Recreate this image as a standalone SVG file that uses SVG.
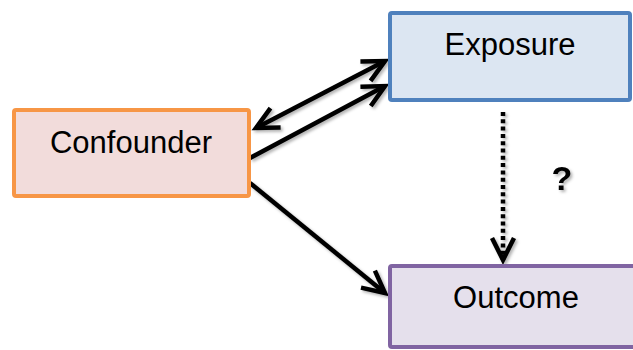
<svg xmlns="http://www.w3.org/2000/svg" width="633" height="350" viewBox="0 0 633 350">
  <style>
    .box { stroke-width: 4; }
    .label { font-family: "Liberation Sans", Arial, sans-serif; font-size: 31px; fill: #000; text-anchor: middle; }
    .edge { stroke: #000; stroke-width: 4.5; fill: none; }
    .q { font-family: "Liberation Sans", Arial, sans-serif; font-size: 34px; font-weight: bold; fill: #000; text-anchor: middle; }
  </style>
  <defs>
    <filter id="shadow" x="-20%" y="-20%" width="140%" height="140%">
      <feDropShadow dx="2" dy="2" stdDeviation="1.5" flood-color="#000" flood-opacity="0.3"/>
    </filter>
    <marker id="arrow" markerUnits="userSpaceOnUse" markerWidth="26" markerHeight="26" viewBox="0 0 26 26" refX="22" refY="13" orient="auto-start-reverse" overflow="visible">
      <path d="M0,2 L22,13 L0,24" fill="none" stroke="#000" stroke-width="4.5" stroke-linejoin="miter"/>
    </marker>
  </defs>

  <g id="connectors" filter="url(#shadow)">
    <line class="edge" x1="256" y1="128" x2="385" y2="61" marker-start="url(#arrow)" marker-end="url(#arrow)"/>
    <line class="edge" x1="250" y1="158" x2="385" y2="86" marker-end="url(#arrow)"/>
    <line class="edge" x1="250" y1="183" x2="385" y2="293" marker-end="url(#arrow)"/>
    <line class="edge" x1="503" y1="112" x2="503" y2="260" stroke-dasharray="4 3.3" marker-end="url(#arrow)"/>
  </g>

  <g id="exposure">
    <rect class="box" x="390" y="13" width="240" height="87" rx="2" fill="#dce6f2" stroke="#4f81bd"/>
    <text class="label" x="510" y="55">Exposure</text>
  </g>

  <g id="confounder">
    <rect class="box" x="14" y="110" width="235" height="86" rx="2" fill="#f2dcdb" stroke="#f79646"/>
    <text class="label" x="131" y="153">Confounder</text>
  </g>

  <g id="outcome">
    <rect class="box" x="390" y="266" width="252" height="81" rx="2" fill="#e5e0ec" stroke="#8064a2"/>
    <text class="label" x="516" y="308">Outcome</text>
  </g>

  <text class="q" x="562" y="190" filter="url(#shadow)">?</text>
</svg>
